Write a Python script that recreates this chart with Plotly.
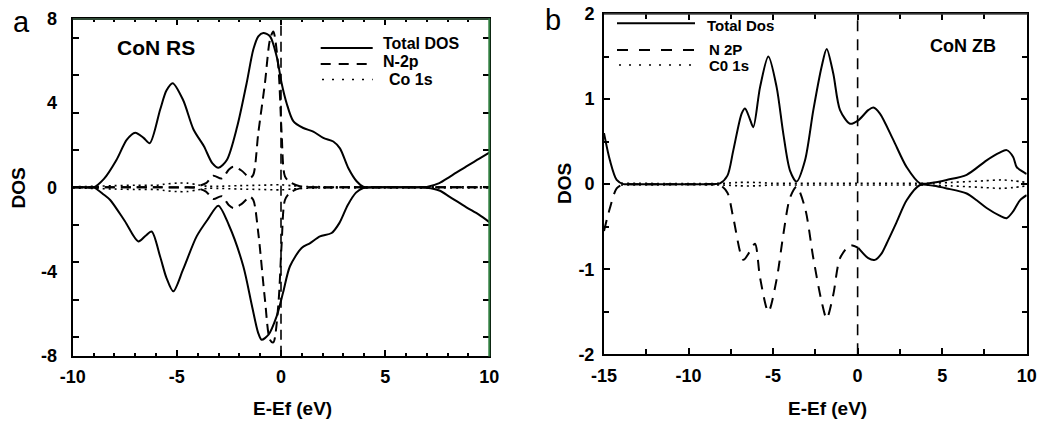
import plotly.graph_objects as go

# ---------------- Panel a: CoN RS ----------------
a_total_up_x = [-10, -9.5, -9.0, -8.5, -7.9, -7.4, -7.0, -6.6, -6.3, -5.8, -5.5, -5.2, -4.7, -4.2, -3.7, -3.3, -3.0,
                -2.6, -2.1, -1.65, -1.33, -1.09, -0.85, -0.53, -0.21, 0.03, 0.27, 0.59, 1.07, 1.55, 2.03, 2.51,
                2.83, 3.23, 3.63, 3.95, 4.4, 5.0, 6.0, 6.6, 7.0, 7.6, 8.1, 8.9, 9.5, 10]
a_total_up_y = [0, 0, 0, 0.4, 1.3, 2.27, 2.6, 2.35, 2.1, 3.7, 4.6, 4.95, 4.15, 2.75, 1.95, 1.15, 0.93,
                1.3, 2.9, 4.95, 6.55, 7.18, 7.34, 7.18, 6.23, 4.95, 4.0, 3.15, 2.82, 2.65, 2.35, 2.18,
                1.85, 0.92, 0.29, 0.03, 0, 0, 0, 0, 0.02, 0.2, 0.5, 1.0, 1.35, 1.65]

a_total_dn_x = [-10, -9.5, -9.0, -8.5, -8.2, -7.5, -6.85, -6.5, -6.21, -5.8, -5.5, -5.17, -4.7, -4.05, -3.5, -3.01,
                -2.5, -1.81, -1.4, -1.1, -0.93, -0.6, -0.21, 0.1, 0.43, 0.99, 1.4, 1.87, 2.43, 2.8, 3.2,
                3.6, 3.95, 4.4, 5.0, 6.0, 6.6, 7.0, 7.6, 8.1, 8.9, 9.5, 10]
a_total_dn_y = [0, 0, 0, -0.35, -0.6, -1.6, -2.57, -2.3, -2.1, -3.3, -4.3, -4.94, -3.9, -2.33, -1.5, -0.87,
                -1.8, -3.75, -5.6, -6.9, -7.24, -7.0, -6.13, -5.0, -3.75, -2.88, -2.65, -2.33, -2.17, -1.7, -0.85,
                -0.25, -0.03, 0, 0, 0, 0, -0.02, -0.15, -0.45, -0.95, -1.3, -1.65]

a_n2p_x = [-10, -6, -4.5, -4.1, -3.6, -3.25, -2.85, -2.5, -2.29, -1.9, -1.49, -1.33, -1.09, -0.77, -0.53, -0.37,
           -0.13, 0.03, 0.19, 0.43, 0.9, 1.5, 3, 10]
a_n2p_up_y = [0, 0, 0, 0.02, 0.2, 0.55, 0.42, 0.85, 0.98, 0.8, 0.45, 0.6, 2.59, 4.96, 7.02, 7.41,
              5.75, 2.59, 0.52, 0.25, 0.05, 0, 0, 0]
a_n2p_dn_y = [0, 0, 0, -0.02, -0.2, -0.55, -0.42, -0.85, -0.98, -0.8, -0.45, -0.6, -2.17, -5.34, -7.24, -7.37,
              -5.6, -2.7, -0.6, -0.25, -0.05, 0, 0, 0]

a_co_x = [-10, -9, -8, -7, -6, -5.6, -5.0, -4.5, -4.0, -3.5, -3, -2, -1, 0, 0.5, 1, 2, 10]
a_co_up_y = [0.03, 0.05, 0.08, 0.1, 0.1, 0.15, 0.2, 0.2, 0.12, 0.05, 0.05, 0.08, 0.1, 0.12, 0.08, 0.05, 0.03, 0.03]
a_co_dn_y = [-v for v in a_co_up_y]

# ---------------- Panel b: CoN ZB ----------------
b_total_up_x = [-15, -14.65, -14.25, -13.85, -13.4, -12, -10, -9, -8.5, -8.14, -7.7, -7.35, -6.86, -6.66, -6.4,
                -6.17, -5.77, -5.28, -4.79, -4.4, -4.0, -3.61, -3.11, -2.62, -2.13, -1.83, -1.44, -1.04, -0.45,
                0.04, 0.63, 0.93, 1.32, 2.11, 2.9, 3.69, 4.5, 5.27, 6.45, 7.63, 8.4, 8.81, 9.2, 9.41, 9.9, 10]
b_total_up_y = [0.6, 0.28, 0.05, 0, 0, 0, 0, 0, 0, 0.01, 0.1, 0.4, 0.83, 0.89, 0.78,
                0.67, 1.14, 1.5, 1.14, 0.6, 0.16, 0.03, 0.28, 0.87, 1.38, 1.59, 1.30, 0.87, 0.71,
                0.75, 0.87, 0.90, 0.83, 0.52, 0.20, 0.01, 0.02, 0.05, 0.11, 0.28, 0.37, 0.40, 0.32, 0.2, 0.13, 0.12]

b_total_dn_x = [0.04, 0.63, 1.02, 1.4, 1.71, 2.3, 2.9, 3.69, 4.5, 5.27, 6.45, 7.04, 7.63, 8.4, 8.81, 9.2, 9.6, 10]
b_total_dn_y = [-0.75, -0.87, -0.89, -0.82, -0.70, -0.45, -0.19, -0.01, -0.02, -0.05, -0.11, -0.19, -0.28,
                -0.37, -0.40, -0.32, -0.19, -0.13]

b_n2p_x = [-15, -14.65, -14.25, -13.85, -13.4, -12, -10, -9, -8.5, -8.14, -7.7, -7.35, -6.76, -6.4, -6.07,
           -5.77, -5.28, -4.79, -4.4, -4.0, -3.61, -3.11, -2.62, -2.13, -1.83, -1.44, -1.04, -0.45, 0.04]
b_n2p_y = [-0.55, -0.28, -0.05, 0, 0, 0, 0, 0, 0, -0.01, -0.1, -0.4, -0.89, -0.8, -0.7,
           -1.1, -1.5, -1.12, -0.6, -0.16, -0.03, -0.28, -0.87, -1.38, -1.58, -1.30, -0.87, -0.72, -0.75]

b_co_x = [-14, -8, -7, -6, -5, -4, -2, 0, 2, 4, 5.5, 6.5, 7.5, 8.5, 9.2, 10]
b_co_up_y = [0.01, 0.01, 0.02, 0.02, 0.01, 0.01, 0.01, 0.01, 0.01, 0.01, 0.02, 0.03, 0.04, 0.05, 0.04, 0.02]
b_co_dn_y = [-v for v in b_co_up_y]

a_yticks = [-8, -4, 0, 4, 8]
a_xticks = [-10, -5, 0, 5, 10]
b_yticks = [-2, -1, 0, 1, 2]
b_xticks = [-15, -10, -5, 0, 5, 10]

FONT = "Liberation Sans, Arial, sans-serif"
W, H = 1037, 423


def px(x):
    return x / W


def py(y):
    return 1 - y / H


def bold_labels(vals):
    return ["<b>%g</b>" % v for v in vals]


fig = go.Figure()

solid = dict(color="black", width=2)
dashA = dict(color="black", width=2, dash="10px,6px")
dashB = dict(color="black", width=2, dash="11px,8px")
dot = dict(color="black", width=1.6, dash="2px,4px")
spl = dict(shape="spline", smoothing=0.8)


def tr(x, y, line, xa, ya):
    fig.add_trace(go.Scatter(x=x, y=y, mode="lines", line=dict(**line, **spl), xaxis=xa, yaxis=ya,
                             showlegend=False, hoverinfo="skip"))


tr(a_co_x, a_co_up_y, dot, "x", "y")
tr(a_co_x, a_co_dn_y, dot, "x", "y")
tr(a_total_up_x, a_total_up_y, solid, "x", "y")
tr(a_total_dn_x, a_total_dn_y, solid, "x", "y")
tr(a_n2p_x, a_n2p_up_y, dashA, "x", "y")
tr(a_n2p_x, a_n2p_dn_y, dashA, "x", "y")

tr(b_co_x, b_co_up_y, dot, "x2", "y2")
tr(b_co_x, b_co_dn_y, dot, "x2", "y2")
tr(b_total_up_x, b_total_up_y, solid, "x2", "y2")
tr(b_total_dn_x, b_total_dn_y, solid, "x2", "y2")
tr(b_n2p_x, b_n2p_y, dashB, "x2", "y2")

tickfont = dict(family=FONT, size=18, color="black")

axcommon = dict(showgrid=False, zeroline=False, showline=True, linecolor="black", linewidth=2,
                ticks="inside", tickcolor="black", tickwidth=1.5, tickfont=tickfont, mirror="ticks",
                automargin=False)

fig.update_layout(
    width=W, height=H, margin=dict(l=0, r=0, t=0, b=0),
    paper_bgcolor="white", plot_bgcolor="white",
    xaxis=dict(domain=[px(72.7), px(489.3)], range=[-10, 10], tickmode="array", tickvals=a_xticks,
               ticktext=bold_labels(a_xticks),
               ticklen=6, ticklabelstandoff=4, anchor="y",
               minor=dict(tickmode="linear", tick0=0, dtick=1, ticks="inside", ticklen=3, tickcolor="black"),
               **axcommon),
    yaxis=dict(domain=[py(355.7), py(19)], range=[-8, 8], tickmode="array", tickvals=a_yticks,
               ticktext=bold_labels(a_yticks),
               ticklen=0, ticklabelstandoff=10, anchor="x",
               minor=dict(tickmode="linear", tick0=0, dtick=16 / 9, ticks="inside", ticklen=6, tickcolor="black"),
               **axcommon),
    xaxis2=dict(domain=[px(604), px(1026.7)], range=[-15, 10], tickmode="array", tickvals=b_xticks,
                ticktext=bold_labels(b_xticks),
                ticklen=6, ticklabelstandoff=4, anchor="y2",
                minor=dict(tickmode="linear", tick0=0, dtick=2.5, ticks="inside", ticklen=5, tickcolor="black"),
                **axcommon),
    yaxis2=dict(domain=[py(354.3), py(14)], range=[-2, 2], tickmode="array", tickvals=b_yticks,
                ticktext=bold_labels(b_yticks),
                ticklen=6, ticklabelstandoff=4, anchor="x2",
                minor=dict(tickmode="linear", tick0=0, dtick=0.5, ticks="inside", ticklen=5, tickcolor="black"),
                **axcommon),
)

shapes = []
# Fermi level lines
shapes.append(dict(type="line", xref="x", yref="paper", x0=0, x1=0, y0=py(355.7), y1=py(19),
                   line=dict(color="black", width=1.6, dash="10px,6px")))
shapes.append(dict(type="line", xref="x2", yref="paper", x0=0, x1=0, y0=py(354.3), y1=py(14),
                   line=dict(color="black", width=1.6, dash="11px,8px")))
# Panel a greenish top/right frame
shapes.append(dict(type="line", xref="paper", yref="paper", x0=px(72.7), x1=px(490), y0=py(19), y1=py(19),
                   line=dict(color="#2f4a36", width=2), layer="above"))
shapes.append(dict(type="line", xref="paper", yref="paper", x0=px(489.3), x1=px(489.3), y0=py(356.5), y1=py(18.5),
                   line=dict(color="#2e7d3e", width=2), layer="above"))
# Panel b thin top frame
shapes.append(dict(type="line", xref="paper", yref="paper", x0=px(604), x1=px(1027.5), y0=py(14), y1=py(14),
                   line=dict(color="#444444", width=1.6), layer="above"))

# legend samples panel a
shapes.append(dict(type="line", xref="paper", yref="paper", x0=px(320.7), x1=px(372.7), y0=py(48), y1=py(48),
                   line=dict(color="black", width=2)))
shapes.append(dict(type="line", xref="paper", yref="paper", x0=px(320.7), x1=px(372.7), y0=py(64), y1=py(64),
                   line=dict(color="black", width=2, dash="10px,8px")))
shapes.append(dict(type="line", xref="paper", yref="paper", x0=px(322), x1=px(372.7), y0=py(79.5), y1=py(79.5),
                   line=dict(color="black", width=1.6, dash="2px,8px")))
# legend samples panel b
shapes.append(dict(type="line", xref="paper", yref="paper", x0=px(617), x1=px(695), y0=py(23.3), y1=py(23.3),
                   line=dict(color="black", width=2)))
shapes.append(dict(type="line", xref="paper", yref="paper", x0=px(617), x1=px(695), y0=py(50), y1=py(50),
                   line=dict(color="black", width=2, dash="11px,11px")))
shapes.append(dict(type="line", xref="paper", yref="paper", x0=px(619), x1=px(695), y0=py(65), y1=py(65),
                   line=dict(color="black", width=1.6, dash="2px,8px")))
fig.update_layout(shapes=shapes)


def ann(text, x, y, size, bold=True, xanchor="center", angle=0):
    if bold:
        text = "<b>%s</b>" % text
    fig.add_annotation(text=text, x=px(x), y=py(y), xref="paper", yref="paper", showarrow=False,
                       xanchor=xanchor, yanchor="middle", textangle=angle,
                       font=dict(family=FONT, size=size, color="black"))


ann("a", 21.5, 22, 29, bold=False)
ann("b", 553, 20, 29, bold=False)
ann("DOS", 17.5, 188, 19, angle=-90)
ann("DOS", 565, 184, 19, angle=-90)
ann("E-Ef (eV)", 292, 408, 19)
ann("E-Ef (eV)", 827, 408, 19)
ann("CoN RS", 156, 47.5, 21)
ann("CoN ZB", 963, 46, 18)
ann("Total DOS", 380.7, 43, 16, xanchor="left")
ann("N-2p", 380.7, 62, 16, xanchor="left")
ann("Co 1s", 386.7, 79.5, 16, xanchor="left")
ann("Total Dos", 705, 26, 15, xanchor="left")
ann("N 2P", 707, 50, 15, xanchor="left")
ann("C0 1s", 707, 65, 15, xanchor="left")

fig.write_html("out.html", config={"displayModeBar": False},
               post_script="document.body.style.margin='0';document.body.style.overflow='hidden';")
